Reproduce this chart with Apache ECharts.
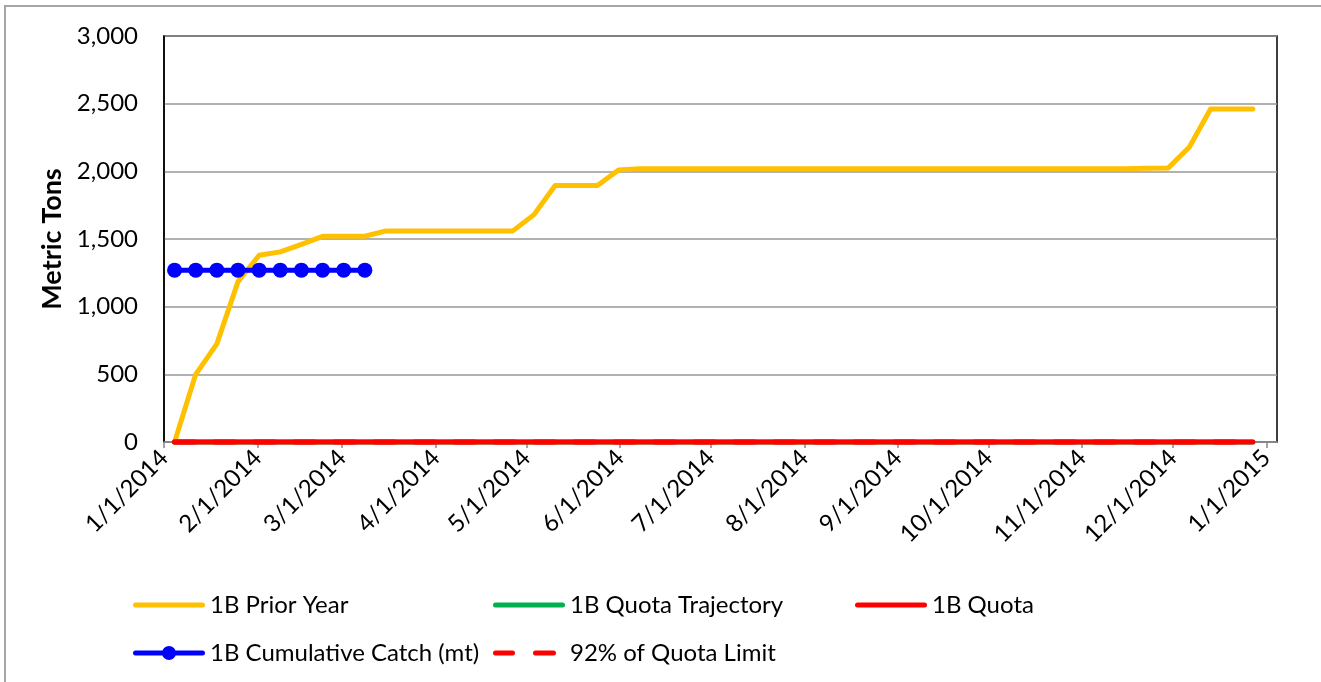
<!DOCTYPE html>
<html>
<head>
<meta charset="utf-8">
<script src="https://cdn.jsdelivr.net/npm/echarts@6/dist/echarts.min.js"></script>
<style>
  html, body { margin: 0; padding: 0; background: #fff; }
  #chart { width: 1321px; height: 682px; }
</style>
</head>
<body>
<div id="chart"></div>
<script>
// weekly report dates (Saturdays)
var weeks = [
  '2014-01-04', '2014-01-11', '2014-01-18', '2014-01-25',
  '2014-02-01', '2014-02-08', '2014-02-15', '2014-02-22',
  '2014-03-01', '2014-03-08', '2014-03-15', '2014-03-22', '2014-03-29',
  '2014-04-05', '2014-04-12', '2014-04-19', '2014-04-26',
  '2014-05-03', '2014-05-10', '2014-05-17', '2014-05-24', '2014-05-31',
  '2014-06-07', '2014-06-14', '2014-06-21', '2014-06-28',
  '2014-07-05', '2014-07-12', '2014-07-19', '2014-07-26',
  '2014-08-02', '2014-08-09', '2014-08-16', '2014-08-23', '2014-08-30',
  '2014-09-06', '2014-09-13', '2014-09-20', '2014-09-27',
  '2014-10-04', '2014-10-11', '2014-10-18', '2014-10-25',
  '2014-11-01', '2014-11-08', '2014-11-15', '2014-11-22', '2014-11-29',
  '2014-12-06', '2014-12-13', '2014-12-20', '2014-12-27'
];
var priorYear = [
  0, 500, 725, 1185,
  1380, 1405, 1460, 1520,
  1520, 1520, 1560, 1560, 1560,
  1560, 1560, 1560, 1560,
  1680, 1895, 1895, 1895, 2010,
  2020, 2020, 2020, 2020,
  2020, 2020, 2020, 2020,
  2020, 2020, 2020, 2020, 2020,
  2020, 2020, 2020, 2020,
  2020, 2020, 2020, 2020,
  2020, 2020, 2020, 2022, 2025,
  2180, 2460, 2460, 2460
];
var quotaTrajectory = [
  0, 0, 0, 0, 0, 0, 0, 0, 0, 0, 0, 0, 0,
  0, 0, 0, 0, 0, 0, 0, 0, 0, 0, 0, 0, 0,
  0, 0, 0, 0, 0, 0, 0, 0, 0, 0, 0, 0, 0,
  0, 0, 0, 0, 0, 0, 0, 0, 0, 0, 0, 0, 0
];
var quota = [
  0, 0, 0, 0, 0, 0, 0, 0, 0, 0, 0, 0, 0,
  0, 0, 0, 0, 0, 0, 0, 0, 0, 0, 0, 0, 0,
  0, 0, 0, 0, 0, 0, 0, 0, 0, 0, 0, 0, 0,
  0, 0, 0, 0, 0, 0, 0, 0, 0, 0, 0, 0, 0
];
var quotaLimit92 = [
  0, 0, 0, 0, 0, 0, 0, 0, 0, 0, 0, 0, 0,
  0, 0, 0, 0, 0, 0, 0, 0, 0, 0, 0, 0, 0,
  0, 0, 0, 0, 0, 0, 0, 0, 0, 0, 0, 0, 0,
  0, 0, 0, 0, 0, 0, 0, 0, 0, 0, 0, 0, 0
];
var catchWeeks = [
  '2014-01-04', '2014-01-11', '2014-01-18', '2014-01-25', '2014-02-01',
  '2014-02-08', '2014-02-15', '2014-02-22', '2014-03-01', '2014-03-08'
];
var cumulativeCatch = [1270, 1270, 1270, 1270, 1270, 1270, 1270, 1270, 1270, 1270];
var tickLabels = [
  '1/1/2014', '2/1/2014', '3/1/2014', '4/1/2014', '5/1/2014', '6/1/2014', '7/1/2014',
  '8/1/2014', '9/1/2014', '10/1/2014', '11/1/2014', '12/1/2014', '1/1/2015'
];

var FONT = 'Lato';
var FS = 24;

// Excel date axis puts each point in the middle of its day slot
function dayMid(s) { return new Date(s + 'T12:00:00').getTime(); }
function tickTime(lbl) {
  var p = lbl.split('/');
  return new Date(+p[2], +p[0] - 1, +p[1]).getTime();
}
function pairs(dates, vals) {
  return dates.map(function (d, i) { return [dayMid(d), vals[i]]; });
}
var tickValues = tickLabels.map(tickTime);

// legend glyphs, drawn like the Excel ones
var ICON_LINE = 'path://M2.5,0H69.5A2.5,2.5 0 0 1 69.5,5H2.5A2.5,2.5 0 0 1 2.5,0Z';
var ICON_DASH = 'path://M2.5,0H19.5A2.5,2.5 0 0 1 19.5,5H2.5A2.5,2.5 0 0 1 2.5,0Z' +
  'M42.5,0H60.5A2.5,2.5 0 0 1 60.5,5H42.5A2.5,2.5 0 0 1 42.5,0Z';
var ICON_MARK = 'path://M2.5,4.5H29.5V9.5H2.5A2.5,2.5 0 0 1 2.5,4.5Z' +
  'M42.5,4.5H69.5A2.5,2.5 0 0 1 69.5,9.5H42.5Z' +
  'M29,7A7,7 0 1 1 43,7A7,7 0 1 1 29,7Z';

var chart = echarts.init(document.getElementById('chart'));

function legendAt(name, left, top, icon, w, h, textPad) {
  return {
    left: left, top: top, padding: 0,
    itemWidth: w, itemHeight: h,
    icon: icon,
    itemStyle: { borderWidth: 0 },
    textStyle: { fontFamily: FONT, fontSize: FS, color: '#000', padding: [0, 0, 0, textPad || 0] },
    data: [name]
  };
}

chart.setOption({
  animation: false,
  backgroundColor: '#fff',
  graphic: [{
    type: 'rect',
    shape: { x: 5, y: 6, width: 1400, height: 800 },
    style: { fill: 'none', stroke: '#a6a6a6', lineWidth: 2 }
  }],
  grid: {
    left: 164, top: 36, right: 44, bottom: 240,
    show: true, borderColor: '#000', borderWidth: 1.5
  },
  legend: [
    legendAt('1B Prior Year', 133, 593, ICON_LINE, 72, 5),
    legendAt('1B Quota Trajectory', 493, 593, ICON_LINE, 72, 5),
    legendAt('1B Quota', 855, 593, ICON_LINE, 72, 5),
    legendAt('1B Cumulative Catch (mt)', 133, 641, ICON_MARK, 72, 14),
    legendAt('92% of Quota Limit', 493, 641, ICON_DASH, 63, 5, 9)
  ],
  xAxis: {
    type: 'value',
    min: tickTime('1/1/2014'),
    max: new Date(2015, 0, 4, 12).getTime(),
    splitLine: { show: false },
    axisLine: { lineStyle: { color: '#888', width: 1.5 } },
    axisTick: { show: true, length: 6, customValues: tickValues, lineStyle: { color: '#888', width: 1.5 } },
    axisLabel: {
      customValues: tickValues,
      rotate: 45,
      margin: 12,
      fontFamily: FONT,
      fontSize: FS,
      color: '#000',
      formatter: function (v) {
        return tickLabels[tickValues.indexOf(v)] || '';
      }
    }
  },
  yAxis: {
    type: 'value',
    min: 0,
    max: 3000,
    interval: 500,
    name: 'Metric Tons',
    nameLocation: 'middle',
    nameRotate: 90,
    nameGap: 92,
    nameTextStyle: { fontFamily: FONT, fontSize: 27, fontWeight: 'bold', color: '#000' },
    axisLine: { show: true, lineStyle: { color: '#000', width: 1.5 } },
    axisTick: { show: false },
    splitLine: { lineStyle: { color: '#999', width: 1.5 } },
    axisLabel: {
      margin: 26,
      fontFamily: FONT,
      fontSize: FS,
      color: '#000',
      formatter: function (v) { return v.toLocaleString('en-US'); }
    }
  },
  series: [
    {
      name: '1B Prior Year', type: 'line', symbol: 'none', clip: false,
      color: '#FFC000',
      lineStyle: { width: 5, cap: 'round', join: 'round' },
      data: pairs(weeks, priorYear)
    },
    {
      name: '1B Quota Trajectory', type: 'line', symbol: 'none', clip: false,
      color: '#00B050',
      lineStyle: { width: 5, cap: 'round', join: 'round' },
      data: pairs(weeks, quotaTrajectory)
    },
    {
      name: '92% of Quota Limit', type: 'line', symbol: 'none', clip: false,
      color: '#FF0000',
      lineStyle: { width: 5, type: [20, 20], cap: 'round' },
      data: pairs(weeks, quotaLimit92)
    },
    {
      name: '1B Quota', type: 'line', symbol: 'none', clip: false, z: 4,
      color: '#FF0000',
      lineStyle: { width: 5, cap: 'round', join: 'round' },
      data: pairs(weeks, quota)
    },
    {
      name: '1B Cumulative Catch (mt)', type: 'line', clip: false, z: 5,
      symbol: 'circle', symbolSize: 15, showSymbol: true,
      color: '#0000FF',
      lineStyle: { width: 5, cap: 'round' },
      data: pairs(catchWeeks, cumulativeCatch)
    }
  ]
});
</script>
</body>
</html>
